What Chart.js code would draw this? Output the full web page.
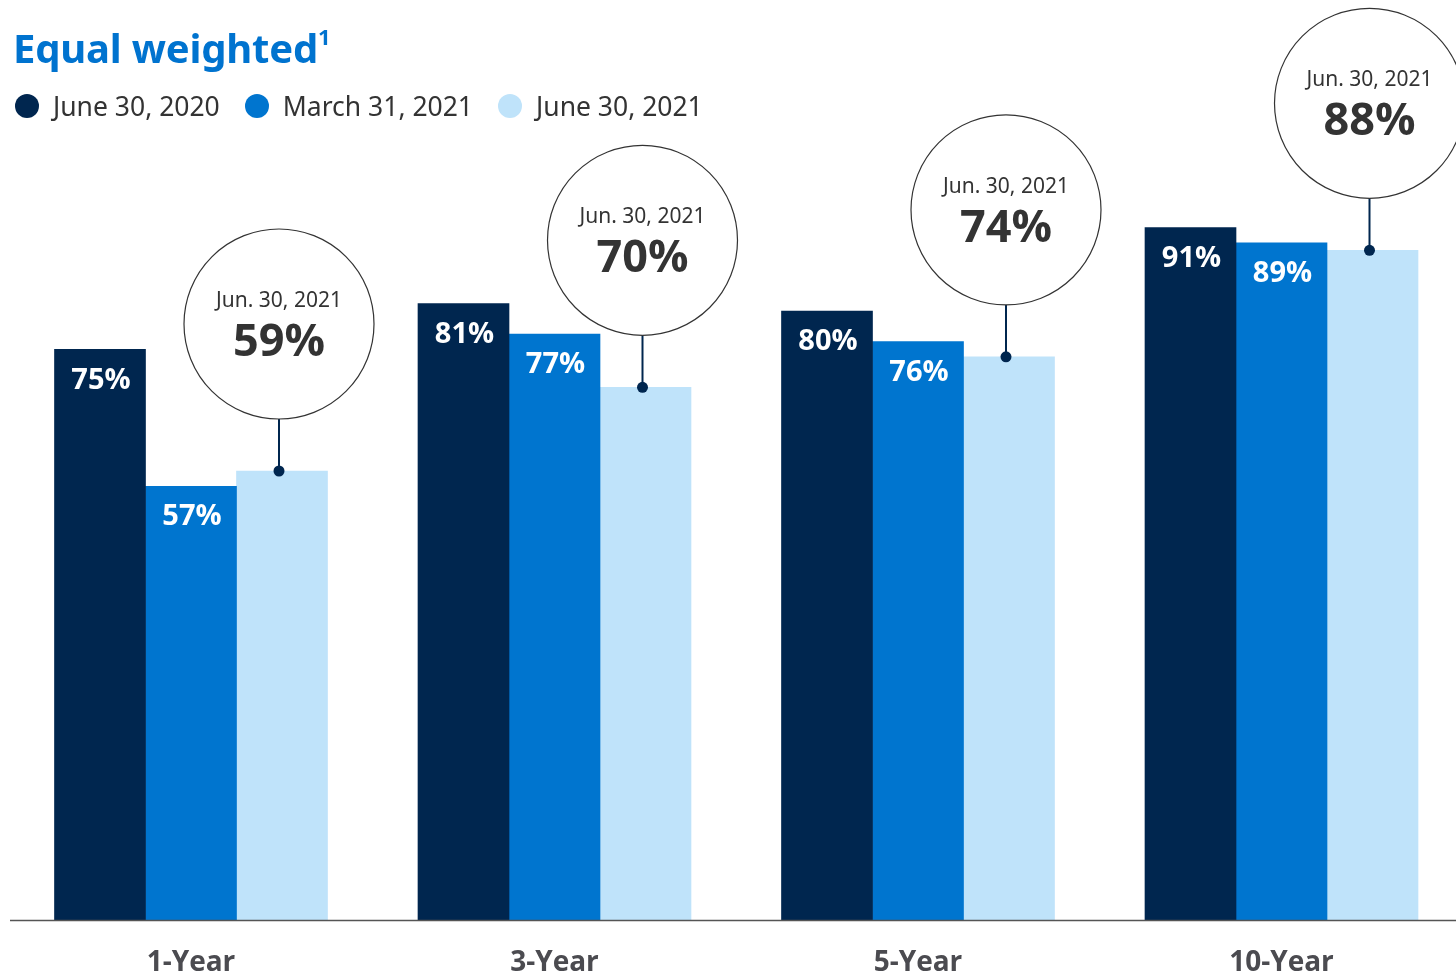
<!DOCTYPE html>
<html>
<head>
<meta charset="utf-8">
<script src="https://cdn.jsdelivr.net/npm/chart.js@4.4.1/dist/chart.umd.min.js"></script>
<style>
  body { margin: 0; background: #fff; overflow: hidden; font-family: "Noto Sans", sans-serif; }
  #wrap { position: relative; width: 1456px; height: 975px; overflow: hidden; }
  #chart { position: absolute; left: 0; top: 0; }
  #title { position: absolute; left: 13px; top: 20px; font-size: 40px; font-weight: bold; color: #0073cf; letter-spacing: -0.2px; }
  #title sup { font-size: 22px; position: relative; top: -4px; }
  #legend { position: absolute; left: 15px; top: 88px; display: flex; align-items: center; }
  .item { display: flex; align-items: center; margin-right: 25px; }
  .dot { width: 24px; height: 24px; border-radius: 50%; margin-right: 14px; }
  .lbl { font-size: 26.5px; color: #333; }
</style>
</head>
<body>
<div id="wrap">
  <canvas id="chart" width="1456" height="975"></canvas>
  <div id="title">Equal weighted<sup>1</sup></div>
  <div id="legend"></div>
</div>
<script>
const categories = ["1-Year", "3-Year", "5-Year", "10-Year"];
const seriesNames = ["June 30, 2020", "March 31, 2021", "June 30, 2021"];
const june2020 = [75, 81, 80, 91];
const march2021 = [57, 77, 76, 89];
const june2021 = [59, 70, 74, 88];
const calloutLabel = "Jun. 30, 2021";

const colors = ["#00264f", "#0075cf", "#bfe3fa"];
const navy = "#00264f";

// html legend
const legend = document.getElementById("legend");
seriesNames.forEach((name, i) => {
  const item = document.createElement("div");
  item.className = "item";
  item.innerHTML = `<span class="dot" style="background:${colors[i]}"></span><span class="lbl">${name}</span>`;
  legend.appendChild(item);
});

const barDecor = {
  id: "barDecor",
  afterDatasetsDraw(chart) {
    const ctx = chart.ctx;
    const area = chart.chartArea;
    ctx.save();

    // baseline across the full width
    ctx.strokeStyle = "#555";
    ctx.lineWidth = 1.5;
    ctx.beginPath();
    ctx.moveTo(10, area.bottom + 0.5);
    ctx.lineTo(1456, area.bottom + 0.5);
    ctx.stroke();

    // white value labels inside the first two series
    ctx.fillStyle = "#fff";
    ctx.font = "bold 29px 'Open Sans'";
    ctx.textAlign = "center";
    ctx.textBaseline = "middle";
    [0, 1].forEach(di => {
      const ds = chart.data.datasets[di];
      chart.getDatasetMeta(di).data.forEach((bar, i) => {
        ctx.fillText(ds.data[i] + "%", bar.x + 1, bar.y + 31);
      });
    });

    // callout bubbles above the last series
    const ds = chart.data.datasets[2];
    chart.getDatasetMeta(2).data.forEach((bar, i) => {
      const x = bar.x - 3;
      const r = 95;
      const cy = bar.y - 52 - r;
      ctx.strokeStyle = navy;
      ctx.lineWidth = 2;
      ctx.beginPath();
      ctx.moveTo(x, bar.y);
      ctx.lineTo(x, cy + r);
      ctx.stroke();
      ctx.fillStyle = navy;
      ctx.beginPath();
      ctx.arc(x, bar.y, 5.5, 0, Math.PI * 2);
      ctx.fill();

      ctx.fillStyle = "#fff";
      ctx.strokeStyle = "#333";
      ctx.lineWidth = 1.2;
      ctx.beginPath();
      ctx.arc(x, cy, r, 0, Math.PI * 2);
      ctx.fill();
      ctx.stroke();

      ctx.fillStyle = "#333";
      ctx.font = "21px 'Noto Sans'";
      ctx.fillText(calloutLabel, x, cy - 23);
      ctx.font = "bold 45px 'Open Sans'";
      ctx.fillText(ds.data[i] + "%", x, cy + 19);
    });
    ctx.restore();
  }
};

new Chart(document.getElementById("chart"), {
  type: "bar",
  data: {
    labels: categories,
    datasets: [
      { label: seriesNames[0], data: june2020, backgroundColor: colors[0] },
      { label: seriesNames[1], data: march2021, backgroundColor: colors[1] },
      { label: seriesNames[2], data: june2021, backgroundColor: colors[2] }
    ]
  },
  options: {
    responsive: false,
    animation: false,
    layout: { padding: { left: 191, right: 174.5, top: 159, bottom: -31 } },
    datasets: { bar: { barThickness: 91, clip: false, borderWidth: 0 } },
    plugins: { legend: { display: false }, tooltip: { enabled: false } },
    scales: {
      x: {
        offset: false,
        grid: { display: false, drawTicks: false, tickLength: 0 },
        border: { display: false },
        ticks: { color: "#4b4b50", padding: 29, font: { family: "Open Sans", size: 28, weight: "bold", lineHeight: 1 } }
      },
      y: { display: false, min: 0, max: 100 }
    }
  },
  plugins: [barDecor]
});
</script>
</body>
</html>
